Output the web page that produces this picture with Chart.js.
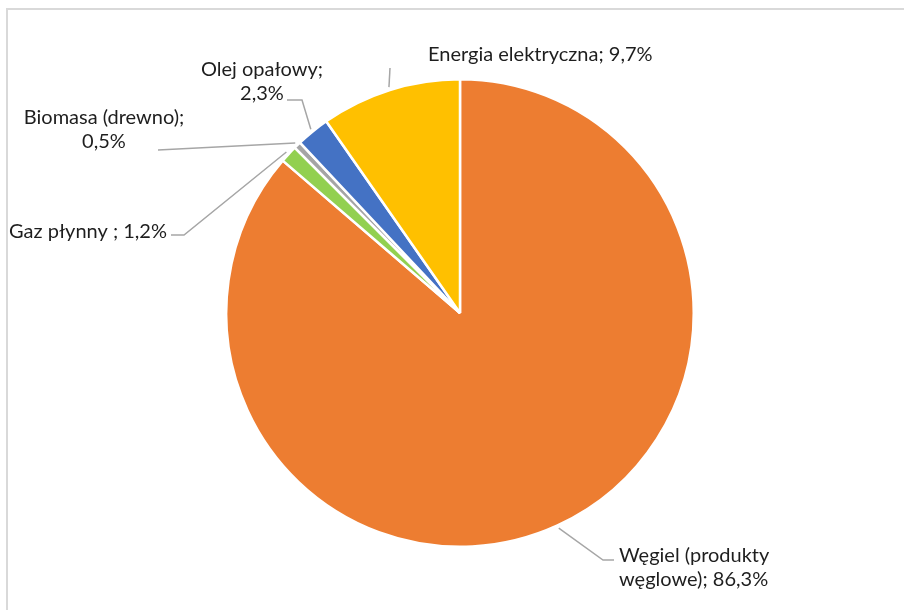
<!DOCTYPE html>
<html>
<head>
<meta charset="utf-8">
<script src="https://cdn.jsdelivr.net/npm/chart.js@4"></script>
<style>
  body { margin: 0; background: #fff; }
  #wrap { position: relative; width: 904px; height: 610px; }
  #frame { position: absolute; left: 6px; top: 8px; width: 960px; height: 700px; border: 2px solid #d9d9d9; box-sizing: border-box; }
</style>
</head>
<body>
<div id="wrap">
  <div id="frame"></div>
  <canvas id="pieChart" width="904" height="610"></canvas>
</div>
<script>
// data
var categories = ['Węgiel (produkty węglowe)', 'Gaz płynny ', 'Biomasa (drewno)', 'Olej opałowy', 'Energia elektryczna'];
var shares = [86.3, 1.2, 0.5, 2.3, 9.7];
var sliceColors = ['#ED7D31', '#92D050', '#A5A5A5', '#4472C4', '#FFC000'];

// label placement (words on first line, text position, leader elbow)
var labelLayout = [
    { firstLine: 2, x: 619, y: 556, align: 'left', path: [[603, 560], [614, 560]] },
    { firstLine: null, x: 167, y: 232, align: 'right', path: [[184, 235], [171, 235]] },
    { firstLine: 2, x: 104, y: 118, align: 'center', path: [[158, 150]] },
    { firstLine: 2, x: 262, y: 70, align: 'center', path: [[302, 100], [287, 100]] },
    { firstLine: null, x: 428, y: 55, align: 'left', path: [[390, 68]] }
];

function labelLines(i) {
    var text = categories[i] + '; ' + shares[i].toFixed(1).replace('.', ',') + '%';
    var n = labelLayout[i].firstLine;
    if (!n) return [text];
    var words = text.split(' ');
    return [words.slice(0, n).join(' '), words.slice(n).join(' ')];
}

var leaderLabels = {
    id: 'leaderLabels',
    afterDatasetsDraw: function (chart) {
        var ctx = chart.ctx;
        var arcs = chart.getDatasetMeta(0).data;
        ctx.save();
        ctx.font = '20px Lato';
        ctx.textBaseline = 'middle';
        arcs.forEach(function (arc, i) {
            var lay = labelLayout[i];
            var mid = (arc.startAngle + arc.endAngle) / 2;
            var r = arc.outerRadius + 3;
            ctx.strokeStyle = '#A6A6A6';
            ctx.lineWidth = 1.5;
            ctx.beginPath();
            ctx.moveTo(arc.x + Math.cos(mid) * r, arc.y + Math.sin(mid) * r);
            lay.path.forEach(function (p) { ctx.lineTo(p[0], p[1]); });
            ctx.stroke();
            ctx.fillStyle = '#1e1e1e';
            ctx.textAlign = lay.align;
            labelLines(i).forEach(function (line, k) {
                ctx.fillText(line, lay.x, lay.y + k * 24);
            });
        });
        ctx.restore();
    }
};

var ctx = document.getElementById('pieChart').getContext('2d');
new Chart(ctx, {
    type: 'pie',
    data: {
        labels: categories,
        datasets: [{
            data: shares,
            backgroundColor: sliceColors,
            borderColor: '#ffffff',
            borderWidth: 2.5,
            hoverOffset: 0,
            offset: 0
        }]
    },
    options: {
        responsive: false,
        animation: false,
        layout: { padding: { left: 225, right: 209, top: 78, bottom: 62 } },
        plugins: {
            legend: { display: false },
            tooltip: { enabled: false }
        }
    },
    plugins: [leaderLabels]
});
</script>
</body>
</html>
